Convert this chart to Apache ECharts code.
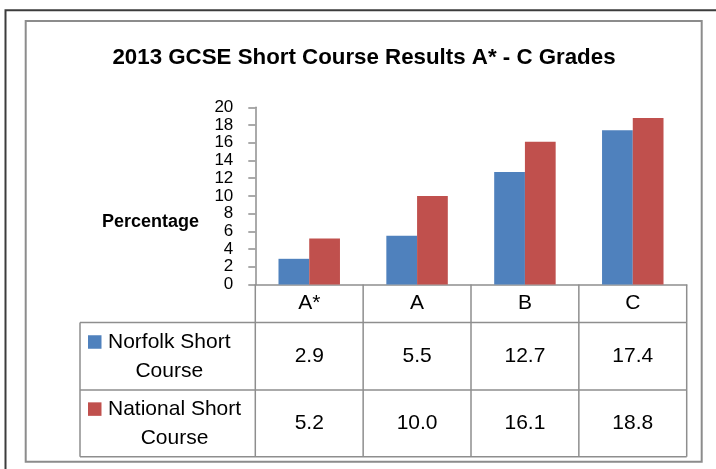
<!DOCTYPE html>
<html>
<head>
<meta charset="utf-8">
<script src="https://cdn.jsdelivr.net/npm/echarts@6/dist/echarts.min.js"></script>
<style>
  html, body { margin: 0; padding: 0; background: #ffffff; }
  #chart { width: 716px; height: 469px; }
</style>
</head>
<body>
<div id="chart"></div>
<script>
// ---- data ----
const titleText = '2013 GCSE Short Course Results A* - C Grades';
const yAxisTitle = 'Percentage';
const categories = ['A*', 'A', 'B', 'C'];
const norfolkName = ['Norfolk Short', 'Course'];
const nationalName = ['National Short', 'Course'];
const norfolk = [2.9, 5.5, 12.7, 17.4];
const national = [5.2, 10.0, 16.1, 18.8];
const yMin = 0, yMax = 20, yStep = 2;

// ---- styles ----
const FONT = '"Liberation Sans", Arial, sans-serif';
const BLUE = '#4F81BD';
const RED = '#C0504D';
const GRID_LINE = '#8e8e8e';
const TABLE_FONT = 21;

const chart = echarts.init(document.getElementById('chart'), null, { renderer: 'canvas' });

const grid = { left: 255.3, right: 29.3, top: 107.3, bottom: 184.5 };
const headerH = 38;
const rowH = [67.5, 66.7];
const tableLeft = 80;

chart.setOption({
  animation: false,
  backgroundColor: '#ffffff',
  grid: grid,
  xAxis: {
    type: 'category',
    data: categories,
    axisLine: { show: true, lineStyle: { color: GRID_LINE, width: 1.5 } },
    axisTick: { show: false },
    axisLabel: { color: '#000', fontFamily: FONT, fontSize: TABLE_FONT, margin: 8.5 },
    splitLine: { show: false }
  },
  yAxis: {
    type: 'value',
    min: yMin, max: yMax, interval: yStep,
    axisLine: { show: true, lineStyle: { color: GRID_LINE, width: 1.5 } },
    axisTick: { show: true, length: 7, lineStyle: { color: GRID_LINE, width: 1.5 } },
    axisLabel: { color: '#000', fontFamily: FONT, fontSize: 17, margin: 22, showMinLabel: true, showMaxLabel: true, hideOverlap: false },
    splitLine: { show: false }
  },
  series: [
    { type: 'bar', name: norfolkName.join(' '), data: norfolk, itemStyle: { color: BLUE }, barGap: '0%', barCategoryGap: '43%' },
    { type: 'bar', name: nationalName.join(' '), data: national, itemStyle: { color: RED }, barGap: '0%', barCategoryGap: '43%' }
  ]
});

// ---- table & decorations computed from the chart's own scales ----
const ctx = document.createElement('canvas').getContext('2d');
function textWidth(t, size) { ctx.font = size + 'px ' + FONT; return ctx.measureText(t).width; }

const axisY = chart.convertToPixel({ yAxisIndex: 0 }, yMin);
const xRight = 716 - grid.right;
const rowTop = [axisY + headerH, axisY + headerH + rowH[0]];
const tableBottom = rowTop[1] + rowH[1];

const g = [];
// outer frames
g.push({ type: 'rect', shape: { x: 5.5, y: 10.3, width: 730, height: 480 }, style: { fill: 'none', stroke: '#3c3c3c', lineWidth: 2 }, silent: true });
g.push({ type: 'rect', shape: { x: 25.7, y: 21, width: 676, height: 440.7 }, style: { fill: 'none', stroke: '#8c8c8c', lineWidth: 2 }, silent: true });
// title
g.push({ type: 'text', x: 364, y: 57.5, style: { text: titleText, font: 'bold 22.3px ' + FONT, fill: '#000', align: 'center', verticalAlign: 'middle' } });
// y axis title
g.push({ type: 'text', x: 150.5, y: 222, style: { text: yAxisTitle, font: 'bold 18px ' + FONT, fill: '#000', align: 'center', verticalAlign: 'middle' } });
// table horizontal lines
[rowTop[0], rowTop[1], tableBottom].forEach(function (yy) {
  g.push({ type: 'line', shape: { x1: tableLeft, y1: yy, x2: xRight, y2: yy }, style: { stroke: GRID_LINE, lineWidth: 1.5 }, silent: true });
});
// left edge of table
g.push({ type: 'line', shape: { x1: tableLeft, y1: rowTop[0], x2: tableLeft, y2: tableBottom }, style: { stroke: GRID_LINE, lineWidth: 1.5 }, silent: true });
// column boundaries from the category scale
const c0 = chart.convertToPixel({ xAxisIndex: 0 }, categories[0]);
const c1 = chart.convertToPixel({ xAxisIndex: 0 }, categories[1]);
const band = c1 - c0;
for (let j = 0; j <= categories.length; j++) {
  const bx = c0 - band / 2 + j * band;
  g.push({ type: 'line', shape: { x1: bx, y1: axisY, x2: bx, y2: tableBottom }, style: { stroke: GRID_LINE, lineWidth: 1.5 }, silent: true });
}

// rows
const rows = [
  { name: norfolkName, color: BLUE, values: norfolk },
  { name: nationalName, color: RED, values: national }
];
rows.forEach(function (r, i) {
  const top = rowTop[i];
  const h = rowH[i];
  const cy = top + h / 2;
  const l1 = cy - 14.5, l2 = cy + 14.5;
  g.push({ type: 'rect', shape: { x: 88, y: l1 - 6.5, width: 13.5, height: 13.5 }, style: { fill: r.color }, silent: true });
  const w = Math.max.apply(null, r.name.map(function (t) { return textWidth(t, TABLE_FONT); }));
  const cx = 108 + w / 2;
  g.push({ type: 'text', x: cx, y: l1, style: { text: r.name[0], font: TABLE_FONT + 'px ' + FONT, fill: '#000', align: 'center', verticalAlign: 'middle' } });
  g.push({ type: 'text', x: cx, y: l2, style: { text: r.name[1], font: TABLE_FONT + 'px ' + FONT, fill: '#000', align: 'center', verticalAlign: 'middle' } });
  r.values.forEach(function (v, j) {
    const px = chart.convertToPixel({ xAxisIndex: 0 }, categories[j]);
    g.push({ type: 'text', x: px, y: cy, style: { text: v.toFixed(1), font: TABLE_FONT + 'px ' + FONT, fill: '#000', align: 'center', verticalAlign: 'middle' } });
  });
});

chart.setOption({ graphic: { elements: g } });
</script>
</body>
</html>
